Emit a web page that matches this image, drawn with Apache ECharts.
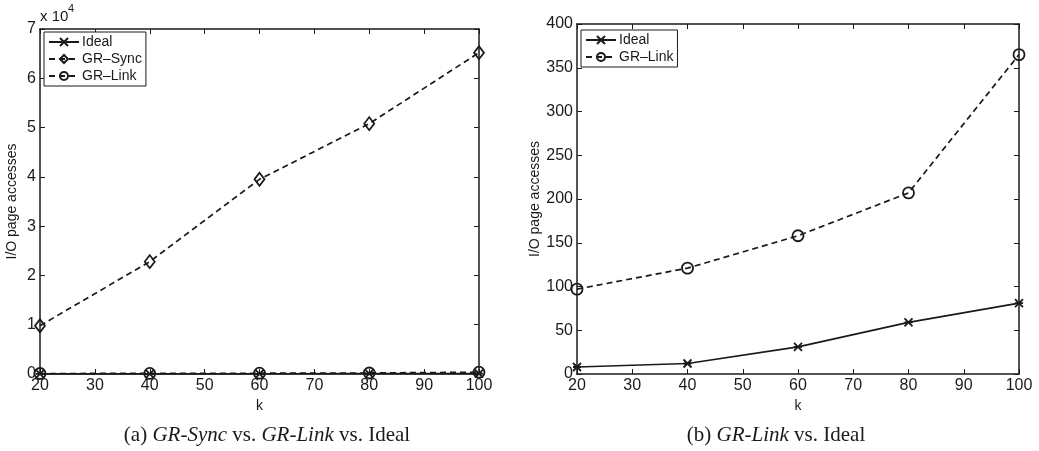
<!DOCTYPE html>
<html>
<head>
<meta charset="utf-8">
<script src="https://cdn.jsdelivr.net/npm/echarts@6/dist/echarts.min.js"></script>
<style>html,body{margin:0;padding:0;background:#fff;}#c{width:1039px;height:451px;}</style>
</head>
<body>
<div id="c"></div>
<script>
var kValues = [20, 40, 60, 80, 100];
var idealValues = [8, 12, 31, 59, 81];
var grSyncValues = [9800, 22800, 39500, 50800, 65200];
var grLinkValues = [97, 121, 158, 207, 365];
var xTicks = [20, 30, 40, 50, 60, 70, 80, 90, 100];
var leftYTicks = [0, 1, 2, 3, 4, 5, 6, 7];
var rightYTicks = [0, 50, 100, 150, 200, 250, 300, 350, 400];

function pairs(vals) { return kValues.map(function (k, i) { return [k, vals[i]]; }); }

var INK = '#1a1a1a';
var FONT = '"Liberation Sans", Arial, Helvetica, sans-serif';
var SERIF = '"Liberation Serif", "Times New Roman", serif';
var crossPath = 'path://M0,0L10,10M10,0L0,10M0,5L10,5';

var chart = echarts.init(document.getElementById('c'), null, { renderer: 'canvas' });

function xAx(grid, bottom) {
  return {
    type: 'value', gridIndex: grid, position: bottom ? 'bottom' : 'top',
    min: xTicks[0], max: xTicks[xTicks.length - 1], interval: 10,
    name: bottom ? 'k' : '', nameLocation: 'middle', nameGap: 21,
    nameTextStyle: { color: INK, fontSize: 14, fontFamily: FONT },
    axisLine: { show: true, onZero: false, lineStyle: { color: INK, width: 1.5 } },
    axisTick: { show: true, inside: true, length: 5, lineStyle: { color: INK } },
    axisLabel: { show: bottom, color: INK, fontSize: 16, fontFamily: FONT, margin: 4 },
    splitLine: { show: false }
  };
}
function yAx(grid, left, max, interval, fmt) {
  return {
    type: 'value', gridIndex: grid, position: left ? 'left' : 'right',
    min: 0, max: max, interval: interval,
    name: left ? 'I/O page accesses' : '', nameLocation: 'middle', nameGap: grid === 0 ? 21 : 32,
    nameTextStyle: { color: INK, fontSize: 14, fontFamily: FONT },
    axisLine: { show: true, onZero: false, lineStyle: { color: INK, width: 1.5 } },
    axisTick: { show: true, inside: true, length: 5, lineStyle: { color: INK } },
    axisLabel: { show: left, color: INK, fontSize: 16, fontFamily: FONT, margin: 4, formatter: fmt },
    splitLine: { show: false }
  };
}

function lineSeries(name, xi, yi, vals, dashed, symbol, size) {
  return {
    name: name, type: 'line', xAxisIndex: xi, yAxisIndex: yi,
    data: pairs(vals), symbol: symbol, symbolSize: size, showAllSymbol: true,
    lineStyle: { color: INK, width: 1.7, type: dashed ? [6, 4] : 'solid' },
    itemStyle: { color: 'rgba(0,0,0,0)', borderColor: INK, borderWidth: 1.8 },
    emphasis: { disabled: true },
    animation: false, z: 3
  };
}

var legendBase = {
  orient: 'vertical', itemWidth: 30, itemHeight: 10, itemGap: 3,
  textStyle: { color: INK, fontSize: 14, fontFamily: FONT, padding: [0, 0, 0, -2] },
  borderColor: INK, borderWidth: 1, backgroundColor: '#fff',
  selectedMode: false
};

var option = {
  backgroundColor: '#fff',
  animation: false,
  grid: [
    { left: 40, top: 29, width: 439, height: 345 },
    { left: 577, top: 24, width: 442, height: 350 }
  ],
  xAxis: [xAx(0, true), xAx(0, false), xAx(1, true), xAx(1, false)],
  yAxis: [
    yAx(0, true, 70000, 10000, function (v) { return String(v / 10000); }),
    yAx(0, false, 70000, 10000),
    yAx(1, true, 400, 50, function (v) { return String(v); }),
    yAx(1, false, 400, 50)
  ],
  legend: [
    Object.assign({}, legendBase, { left: 44, top: 32, padding: [3, 4, 3, 4], data: ['Ideal', 'GR–Sync', 'GR–Link'] }),
    Object.assign({}, legendBase, { left: 581, top: 30, padding: [3, 4, 3, 4], data: ['Ideal', 'GR–Link'] })
  ],
  series: [
    lineSeries('GR–Sync', 0, 0, grSyncValues, true, 'diamond', [10, 13]),
    lineSeries('Ideal', 0, 0, idealValues, false, crossPath, 8),
    lineSeries('GR–Link', 0, 0, grLinkValues, true, 'circle', 11),
    lineSeries('Ideal', 2, 2, idealValues, false, crossPath, 8),
    lineSeries('GR–Link', 2, 2, grLinkValues, true, 'circle', 11)
  ],
  graphic: [
    { type: 'text', left: 40, top: 9, style: { text: 'x 10', fill: INK, font: '15px ' + FONT } },
    { type: 'text', left: 68, top: 3, style: { text: '4', fill: INK, font: '11px ' + FONT } },
    {
      type: 'text', x: 267, y: 425,
      style: {
        text: '(a) {i|GR-Sync} vs. {i|GR-Link} vs. Ideal',
        align: 'center', verticalAlign: 'top',
        fill: INK, font: '21px ' + SERIF,
        rich: { i: { fontStyle: 'italic', fontSize: 21, fontFamily: SERIF, fill: INK } }
      }
    },
    {
      type: 'text', x: 776, y: 425,
      style: {
        text: '(b) {i|GR-Link} vs. Ideal',
        align: 'center', verticalAlign: 'top',
        fill: INK, font: '21px ' + SERIF,
        rich: { i: { fontStyle: 'italic', fontSize: 21, fontFamily: SERIF, fill: INK } }
      }
    }
  ]
};
chart.setOption(option);
</script>
</body>
</html>
